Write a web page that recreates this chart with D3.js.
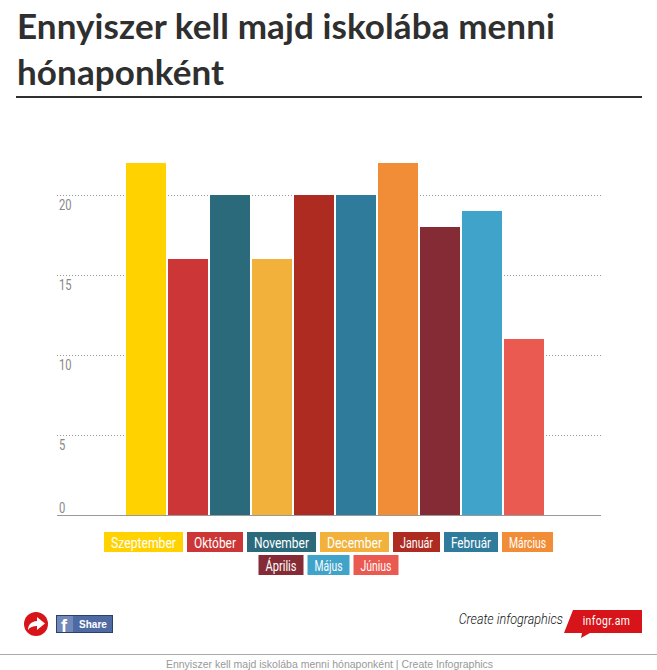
<!DOCTYPE html>
<html>
<head>
<meta charset="utf-8">
<script src="https://cdnjs.cloudflare.com/ajax/libs/d3/7.8.5/d3.min.js"></script>
<style>
html, body { margin: 0; padding: 0; background: #fff; overflow: hidden; }
svg { display: block; }
text { font-family: Roboto, sans-serif; }
</style>
</head>
<body>
<svg></svg>
<script>
const months = ["Szeptember", "Október", "November", "December", "Január", "Február", "Március", "Április", "Május", "Június"];
const values = [22, 16, 20, 16, 20, 20, 22, 18, 19, 11];
const colors = ["#ffd200", "#cc3636", "#2a6a7b", "#f2b13b", "#ae2b22", "#2f7b9b", "#f28d37", "#842b36", "#40a3c9", "#ea5a50"];
const yTicks = [0, 5, 10, 15, 20];
const titleLines = ["Ennyiszer kell majd iskolába menni", "hónaponként"];
const legendRows = [months.slice(0, 7), months.slice(7)];
const footerText = "Ennyiszer kell majd iskolába menni hónaponként | Create Infographics";

// legend box widths, the original narrow font can't be measured here
const legendWidths = [79, 56, 69, 69, 47, 54, 51, 45, 42, 45];

// no narrow font installed, so squeeze Roboto
var narrow = 0.8;

var svg = d3.select("svg")
    .attr("width", 657)
    .attr("height", 670);

// title
svg.selectAll(".title")
    .data(titleLines)
    .enter().append("text")
    .attr("class", "title")
    .attr("x", 17)
    .attr("y", function(d, i) { return 39 + i * 46 })
    .attr("fill", "#2f2f2f")
    .style("font-family", "Lato, sans-serif")
    .style("font-weight", 700)
    .style("font-size", "35px")
    .style("letter-spacing", "0.1px")
    .text(function(d) { return d });

svg.append("rect")
    .attr("x", 16).attr("y", 96)
    .attr("width", 626).attr("height", 2)
    .attr("fill", "#2f2f2f");

// scales
var x = d3.scaleBand()
    .domain(months)
    .range([126, 544])
    .paddingInner(2 / 42);

var y = d3.scaleLinear()
    .domain([0, 22])
    .range([515, 163]);

// grid and tick labels
var axis = svg.append("g")
    .attr("transform", "translate(57,0)")
    .call(d3.axisLeft(y).tickValues(yTicks).tickSize(-544).tickFormat(d3.format("d")));

axis.select(".domain").remove();
axis.selectAll(".tick line")
    .attr("stroke", "#999")
    .attr("stroke-dasharray", function(d) { return d === 0 ? null : "1,2" });
axis.selectAll(".tick text")
    .attr("x", 2 / narrow)
    .attr("dy", function(d) { return d === 0 ? -3 : 15 })
    .attr("text-anchor", "start")
    .attr("transform", "scale(" + narrow + ",1)")
    .attr("fill", "#888")
    .style("font-family", "Roboto, sans-serif")
    .style("font-size", "14px");

// bars
svg.selectAll(".bar")
    .data(months)
    .enter().append("rect")
    .attr("class", "bar")
    .attr("x", function(d) { return x(d) })
    .attr("y", function(d, i) { return y(values[i]) })
    .attr("width", x.bandwidth())
    .attr("height", function(d, i) { return y(0) - y(values[i]) })
    .attr("fill", function(d, i) { return colors[i] });

// legend, two centred rows
legendRows.forEach(function(row, r) {
    var total = d3.sum(row, function(name) { return legendWidths[months.indexOf(name)] + 4 }) - 4;
    var cx = 328.5 - total / 2;
    row.forEach(function(name) {
        var i = months.indexOf(name);
        svg.append("rect")
            .attr("x", cx)
            .attr("y", 532 + r * 23)
            .attr("width", legendWidths[i])
            .attr("height", 20)
            .attr("fill", colors[i]);
        svg.append("text")
            .attr("x", cx + 7)
            .attr("y", 548 + r * 23)
            .attr("textLength", legendWidths[i] - 14)
            .attr("lengthAdjust", "spacingAndGlyphs")
            .attr("fill", "#fff")
            .style("font-size", "15px")
            .text(name);
        cx += legendWidths[i] + 4;
    });
});

// share icon
svg.append("circle")
    .attr("cx", 36).attr("cy", 624).attr("r", 12)
    .attr("fill", "#d7141a");
svg.append("path")
    .attr("d", "M37 617l8 6.5-8 6.5v-4c-4 0-7 1-9 4 0-5 3-8.500 9-9z")
    .attr("fill", "#fff");

// facebook button
svg.append("rect")
    .attr("x", 56.500).attr("y", 615.500)
    .attr("width", 56).attr("height", 17)
    .attr("fill", "#4f6aa3")
    .attr("stroke", "#2a4170");
svg.append("rect")
    .attr("x", 57).attr("y", 616)
    .attr("width", 16).attr("height", 16)
    .attr("fill", "#7288b8");
svg.append("text")
    .attr("x", 64).attr("y", 632)
    .attr("text-anchor", "middle")
    .attr("fill", "#fff")
    .style("font-family", "\"Liberation Sans\", sans-serif")
    .style("font-weight", 700)
    .style("font-size", "18px")
    .text("f");
svg.append("text")
    .attr("x", 93).attr("y", 628)
    .attr("text-anchor", "middle")
    .attr("fill", "#fff")
    .style("font-family", "\"Liberation Sans\", sans-serif")
    .style("font-weight", 700)
    .style("font-size", "10px")
    .text("Share");

// infogr.am badge
svg.append("text")
    .attr("x", 563 / 0.84).attr("y", 624)
    .attr("transform", "scale(0.84,1)")
    .attr("text-anchor", "end")
    .attr("fill", "#111")
    .style("font-style", "italic")
    .style("font-weight", 300)
    .style("font-size", "15px")
    .text("Create infographics");
svg.append("path")
    .attr("d", "M573 610H642V633H590L581 638L582 633H564Z")
    .attr("fill", "#d7141a");
svg.append("text")
    .attr("x", 606.5 / narrow).attr("y", 625)
    .attr("transform", "scale(" + narrow + ",1)")
    .attr("text-anchor", "middle")
    .attr("fill", "#fff")
    .style("letter-spacing", "0.5px")
    .style("font-size", "13px")
    .text("infogr.am");

// footer
svg.append("rect")
    .attr("x", 0).attr("y", 654)
    .attr("width", 657).attr("height", 1)
    .attr("fill", "#aaa");
svg.append("text")
    .attr("x", 329.5).attr("y", 668)
    .attr("text-anchor", "middle")
    .attr("fill", "#999")
    .style("font-family", "\"Liberation Sans\", Arial, sans-serif")
    .style("font-size", "10.5px")
    .text(footerText);
</script>
</body>
</html>
